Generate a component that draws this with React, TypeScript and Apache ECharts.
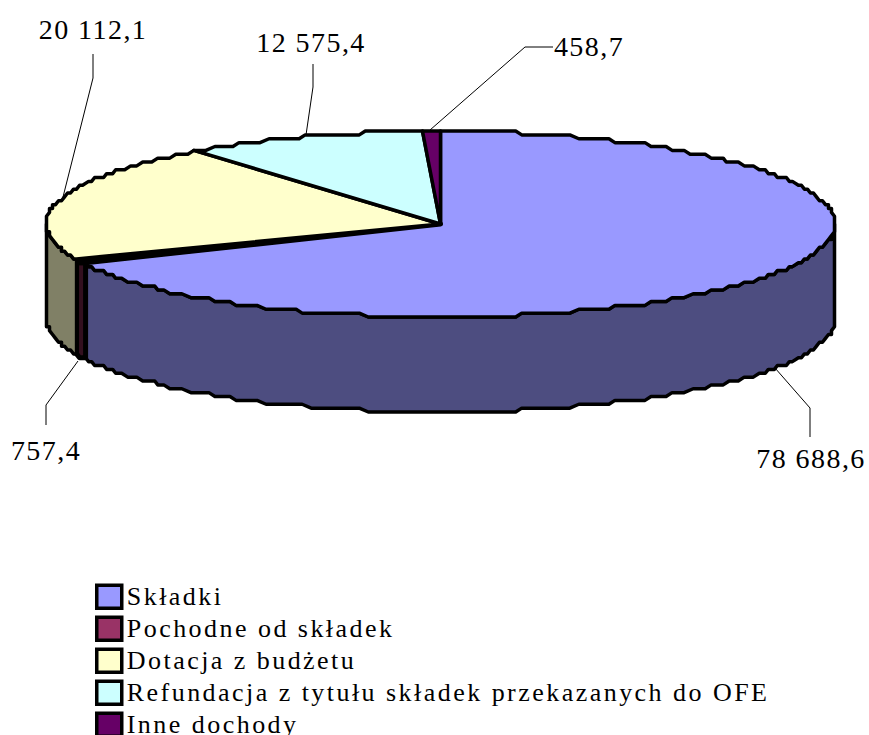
import React, { useEffect, useRef } from "react";
import * as echarts from "echarts";

const CATEGORIES = [
  "Składki",
  "Pochodne od składek",
  "Dotacja z budżetu",
  "Refundacja z tytułu składek przekazanych do OFE",
  "Inne dochody",
];
const VALUES = [78688.6, 757.4, 20112.1, 12575.4, 458.7];
const TOP_COLORS = ["#9999ff", "#993366", "#ffffcc", "#ccffff", "#660066"];
const WALL_COLORS = ["#4d4d80", "#33101f", "#808066", "#668080", "#330033"];

// label anchor layout, one entry per value: text position and leader polyline
const LABEL_LAYOUT: { x: number; y: number; line: number[][] }[] = [
  { x: 811, y: 458, line: [[810, 437], [810, 408], [775, 368]] },
  { x: 46, y: 450, line: [[46, 425], [46, 405], [78, 361]] },
  { x: 93, y: 29, line: [[93, 54], [93, 78], [63, 197]] },
  { x: 311, y: 42, line: [[313, 64], [313, 87], [306, 135]] },
  { x: 589, y: 46, line: [[553, 47], [525, 47], [430, 130]] },
];

const CX = 440.5;
const CY = 224;
const RX = 394;
const RY = 93;
const DEPTH = 95;
const MIN_ANGLE = 3.2;
const STEP_Y = RY / 24;
const STEP_X = RX / 131;

const rad = (d: number) => (d * Math.PI) / 180;

function boundaries(values: number[]): number[] {
  // the smallest wedge keeps a minimum angle so that it stays legible
  const smallest = Math.min(...values);
  const rest = values.reduce((a, b) => a + b, 0) - smallest;
  const out = [0];
  values.forEach((v, i) =>
    out.push(out[i] + (v === smallest ? MIN_ANGLE : (v / rest) * (360 - MIN_ANGLE))),
  );
  // slight view skew of the tilted disc
  return out.map((t) => t - 5.92 * Math.sin(rad(2 * t)) + 2 * Math.sin(rad(t)));
}

const ANGLES = boundaries(VALUES);

function pt(theta: number, dy: number): number[] {
  const dx = RX * Math.sin(rad(theta));
  const dyy = -RY * Math.cos(rad(theta));
  return [CX + Math.round(dx / STEP_X) * STEP_X, CY + Math.round(dyy / STEP_Y) * STEP_Y + dy];
}

function arc(a: number, b: number, dy: number): number[][] {
  const out: number[][] = [];
  const n = Math.max(1, Math.ceil((b - a) / 1.2));
  for (let i = 0; i <= n; i++) out.push(pt(a + ((b - a) * i) / n, dy));
  return out;
}

const slicePoly = (i: number) => [[CX, CY], ...arc(ANGLES[i], ANGLES[i + 1], 0)];

function wallPoly(i: number): number[][] | null {
  const a = Math.max(ANGLES[i], 90);
  const b = Math.min(ANGLES[i + 1], 270);
  if (b <= a) return null;
  return [...arc(a, b, 0), ...arc(a, b, DEPTH).reverse()];
}

const formatValue = (v: number) => {
  const [int, dec] = v.toFixed(1).split(".");
  return `${int.replace(/\B(?=(\d{3})+$)/g, " ")},${dec}`;
};

const strokeFor = (i: number) => (i === 1 ? 5 : 3.5);

export default function App() {
  const ref = useRef<HTMLDivElement>(null);
  useEffect(() => {
    const chart = echarts.init(ref.current!, null, { renderer: "svg" });
    const seriesData = VALUES.map((v) => [v]);
    chart.setOption({
      animation: false,
      backgroundColor: "#ffffff",
      legend: {
        orient: "vertical",
        left: 95,
        top: 583.5,
        height: 170,
        padding: 0,
        itemWidth: 25,
        itemHeight: 23,
        itemGap: 5.5,
        selectedMode: false,
        icon: "rect",
        data: CATEGORIES,
        itemStyle: { borderColor: "#000000", borderWidth: 3.5 },
        textStyle: {
          fontFamily: "Liberation Serif",
          fontSize: 26,
          color: "#000000",
        },
      },
      series: [
        {
          type: "custom",
          coordinateSystem: "none",
          name: "walls",
          data: seriesData,
          silent: true,
          renderItem: (p: any) => {
            const points = wallPoly(p.dataIndex);
            if (!points) return { type: "group", children: [] };
            return {
              type: "polygon",
              shape: { points },
              style: {
                fill: WALL_COLORS[p.dataIndex],
                stroke: "#000",
                lineWidth: strokeFor(p.dataIndex),
                lineJoin: "round",
              },
            };
          },
        },
        {
          type: "custom",
          coordinateSystem: "none",
          name: "tops",
          data: seriesData,
          silent: true,
          renderItem: (p: any) => ({
            type: "polygon",
            shape: { points: slicePoly(p.dataIndex) },
            style: {
              fill: TOP_COLORS[p.dataIndex],
              stroke: "#000",
              lineWidth: strokeFor(p.dataIndex),
              lineJoin: "round",
            },
          }),
        },
        {
          type: "custom",
          coordinateSystem: "none",
          name: "labels",
          data: seriesData,
          silent: true,
          renderItem: (p: any, api: any) => {
            const l = LABEL_LAYOUT[p.dataIndex];
            return {
              type: "group",
              children: [
                {
                  type: "polyline",
                  shape: { points: l.line },
                  style: { fill: "none", stroke: "#000", lineWidth: 1 },
                },
                {
                  type: "text",
                  x: l.x,
                  y: l.y,
                  style: {
                    text: formatValue(api.value(0)),
                    fontFamily: "Liberation Serif",
                    fontSize: 28,
                    fill: "#000",
                    align: "center",
                    verticalAlign: "middle",
                  },
                },
              ],
            };
          },
        },
        ...CATEGORIES.map((name, i) => ({
          type: "custom",
          coordinateSystem: "none",
          name,
          data: [],
          itemStyle: { color: TOP_COLORS[i] },
          renderItem: () => ({ type: "group", children: [] }),
        })),
      ],
    });
    return () => chart.dispose();
  }, []);
  return (
    <>
      <style>{`
        .pie-box text { letter-spacing: 2.46px; }
        .pie-box text[style*="28px"] { letter-spacing: 1.45px; }
      `}</style>
      <div
        ref={ref}
        className="pie-box"
        style={{ position: "fixed", left: 0, top: 0, width: 869, height: 735 }}
      />
    </>
  );
}
